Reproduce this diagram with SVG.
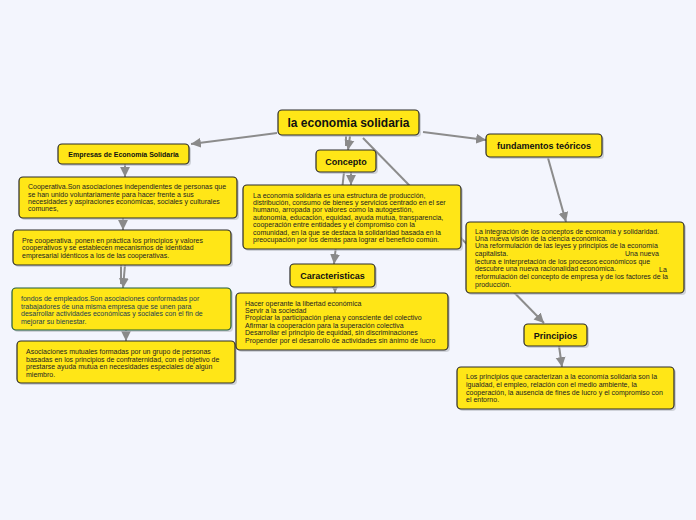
<svg xmlns="http://www.w3.org/2000/svg" width="696" height="520" viewBox="0 0 696 520">
<defs>
<marker id="arr" markerUnits="userSpaceOnUse" markerWidth="11" markerHeight="11" viewBox="0 0 10 10" refX="9" refY="5" orient="auto">
<path d="M0,0.5 L9,5 L0,9.5 z" fill="#8a8a8a"/>
</marker>
</defs>
<style>
.bg{fill:#f3f5fd}
.c{stroke:#8c8c8c;stroke-width:2;fill:none}
.ca{stroke:#8c8c8c;stroke-width:2;fill:none;marker-end:url(#arr)}
.b{fill:#ffe617;stroke:#2a2a2a;stroke-width:1.2}
.bg2{fill:#ffe617;stroke:#1f5a3c;stroke-width:1.2}
.sh{fill:#b8bac2;opacity:0.6}
.t{font-family:"Liberation Sans",Arial,sans-serif;font-size:7px;fill:#222}
.tg{font-family:"Liberation Sans",Arial,sans-serif;font-size:7px;fill:#1d3d50}
.h{font-family:"Liberation Sans",Arial,sans-serif;font-size:9px;font-weight:bold;fill:#111;text-anchor:middle}
.hs{font-family:"Liberation Sans",Arial,sans-serif;font-size:7px;font-weight:bold;fill:#111;text-anchor:middle}
.ht{font-family:"Liberation Sans",Arial,sans-serif;font-size:12px;font-weight:bold;fill:#111;text-anchor:middle}
</style>
<rect class="bg" x="0" y="0" width="696" height="520"/>
<g id="connectors">
<line class="ca" x1="277" y1="133" x2="191" y2="144"/>
<line class="ca" x1="423" y1="132" x2="486" y2="140"/>
<line class="c" x1="346" y1="136" x2="346" y2="146"/>
<line class="ca" x1="350" y1="136" x2="348" y2="150"/>
<line class="ca" x1="363" y1="138" x2="544" y2="323"/>
<line class="ca" x1="351" y1="172" x2="351" y2="185"/>
<line class="ca" x1="344" y1="172" x2="334" y2="264"/>
<line class="ca" x1="335" y1="287" x2="335" y2="293"/>
<line class="ca" x1="548" y1="158" x2="566" y2="222"/>
<line class="ca" x1="559" y1="346" x2="562" y2="367"/>
<line class="ca" x1="125" y1="164" x2="125" y2="177"/>
<line class="ca" x1="123" y1="218" x2="123" y2="230"/>
<line class="c" x1="121" y1="265" x2="121" y2="284"/>
<line class="ca" x1="125" y1="265" x2="123" y2="288"/>
<line class="ca" x1="126" y1="330" x2="126" y2="341"/>
</g>
<g id="root">
<rect class="sh" x="280" y="112" width="141" height="25" rx="4"/>
<rect class="b" x="278" y="110" width="141" height="25" rx="4"/>
<text class="ht" x="348.5" y="127">la economia solidaria</text>
</g>
<g id="empresas">
<rect class="sh" x="60" y="146" width="131" height="20" rx="4"/>
<rect class="b" x="58" y="144" width="131" height="20" rx="4"/>
<text class="hs" x="123.5" y="156.5">Empresas de Economía Solidaria</text>
</g>
<g id="cooperativa">
<rect class="sh" x="21" y="179" width="218" height="41" rx="4"/>
<rect class="b" x="19" y="177" width="218" height="41" rx="4"/>
<text class="t"><tspan x="28" y="189">Cooperativa.Son asociaciones independientes de personas que</tspan><tspan x="28" y="196.5">se han unido voluntariamente para hacer frente a sus</tspan><tspan x="28" y="204">necesidades y aspiraciones económicas, sociales y culturales</tspan><tspan x="28" y="211">comunes,</tspan></text>
</g>
<g id="precooperativa">
<rect class="sh" x="15" y="232" width="218" height="35" rx="4"/>
<rect class="b" x="13" y="230" width="218" height="35" rx="4"/>
<text class="t"><tspan x="22" y="242.5">Pre cooperativa. ponen en práctica los principios y valores</tspan><tspan x="22" y="250">cooperativos y se establecen mecanismos de identidad</tspan><tspan x="22" y="257.5">empresarial idénticos a los de las cooperativas.</tspan></text>
</g>
<g id="fondos">
<rect class="sh" x="14" y="290" width="219" height="42" rx="4"/>
<rect class="bg2" x="12" y="288" width="219" height="42" rx="4"/>
<text class="tg"><tspan x="21" y="301">fondos de empleados.Son asociaciones conformadas por</tspan><tspan x="21" y="308.5">trabajadores de una misma empresa que se unen para</tspan><tspan x="21" y="316">desarrollar actividades económicas y sociales con el fin de</tspan><tspan x="21" y="323.5">mejorar su bienestar.</tspan></text>
</g>
<g id="asociaciones">
<rect class="sh" x="19" y="343" width="218" height="42" rx="4"/>
<rect class="b" x="17" y="341" width="218" height="42" rx="4"/>
<text class="t"><tspan x="26" y="354">Asociaciones mutuales formadas por un grupo de personas</tspan><tspan x="26" y="361.5">basadas en los principios de confraternidad, con el objetivo de</tspan><tspan x="26" y="369">prestarse ayuda mutua en necesidades especiales de algún</tspan><tspan x="26" y="376.5">miembro.</tspan></text>
</g>
<g id="concepto">
<rect class="sh" x="318" y="152" width="60" height="22" rx="4"/>
<rect class="b" x="316" y="150" width="60" height="22" rx="4"/>
<text class="h" x="346" y="164.5">Concepto</text>
</g>
<g id="concepto-texto">
<rect class="sh" x="245" y="187" width="218" height="64" rx="4"/>
<rect class="b" x="243" y="185" width="218" height="64" rx="4"/>
<text class="t"><tspan x="253" y="197.5">La economía solidaria es una estructura de producción,</tspan><tspan x="253" y="204.8">distribución, consumo de bienes y servicios centrado en el ser</tspan><tspan x="253" y="212">humano, arropada por valores como la autogestión,</tspan><tspan x="253" y="219.5">autonomía, educación, equidad, ayuda mutua, transparencia,</tspan><tspan x="253" y="226.8">cooperación entre entidades y el compromiso con la</tspan><tspan x="253" y="234.5">comunidad, en la que se destaca la solidaridad basada en la</tspan><tspan x="253" y="241.8">preocupación por los demás para lograr el beneficio común.</tspan></text>
</g>
<g id="caracteristicas">
<rect class="sh" x="292" y="266" width="85" height="23" rx="4"/>
<rect class="b" x="290" y="264" width="85" height="23" rx="4"/>
<text class="h" x="332.5" y="279">Caracteristicas</text>
</g>
<g id="caracteristicas-texto">
<rect class="sh" x="238" y="295" width="212" height="57" rx="4"/>
<rect class="b" x="236" y="293" width="212" height="57" rx="4"/>
<text class="t"><tspan x="245" y="305.5">Hacer operante la libertad económica</tspan><tspan x="245" y="313">Servir a la sociedad</tspan><tspan x="245" y="320.3">Propiciar la participación plena y consciente del colectivo</tspan><tspan x="245" y="328">Afirmar la cooperación para la superación colectiva</tspan><tspan x="245" y="335.3">Desarrollar el principio de equidad, sin discriminaciones</tspan><tspan x="245" y="342.8">Propender por el desarrollo de actividades sin ánimo de lucro</tspan></text>
</g>
<g id="fundamentos">
<rect class="sh" x="488" y="136" width="116" height="23" rx="4"/>
<rect class="b" x="486" y="134" width="116" height="23" rx="4"/>
<text class="h" x="544" y="149">fundamentos teóricos</text>
</g>
<g id="fundamentos-texto">
<rect class="sh" x="468" y="224" width="218" height="71" rx="4"/>
<rect class="b" x="466" y="222" width="218" height="71" rx="4"/>
<text class="t"><tspan x="475" y="234">La integración de los conceptos de economía y solidaridad.</tspan><tspan x="475" y="241">Una nueva visión de la ciencia económica.</tspan><tspan x="475" y="248.3">Una reformulación de las leyes y principios de la economía</tspan><tspan x="475" y="255.8">capitalista.</tspan><tspan x="625" y="255.8">Una nueva</tspan><tspan x="475" y="263.5">lectura e interpretación de los procesos económicos que</tspan><tspan x="475" y="270.8">descubre una nueva racionalidad económica.</tspan><tspan x="659" y="271.8">La</tspan><tspan x="475" y="279">reformulación del concepto de empresa y de los factores de la</tspan><tspan x="475" y="286.5">producción.</tspan></text>
</g>
<g id="principios">
<rect class="sh" x="526" y="326" width="63" height="22" rx="4"/>
<rect class="b" x="524" y="324" width="63" height="22" rx="4"/>
<text class="h" x="555.5" y="338.5">Principios</text>
</g>
<g id="principios-texto">
<rect class="sh" x="459" y="369" width="217" height="42" rx="4"/>
<rect class="b" x="457" y="367" width="217" height="42" rx="4"/>
<text class="t"><tspan x="466" y="379">Los principios que caracterizan a la economía solidaria son la</tspan><tspan x="466" y="386.7">igualdad, el empleo, relación con el medio ambiente, la</tspan><tspan x="466" y="394.5">cooperación, la ausencia de fines de lucro y el compromiso con</tspan><tspan x="466" y="402">el entorno.</tspan></text>
</g>
</svg>
